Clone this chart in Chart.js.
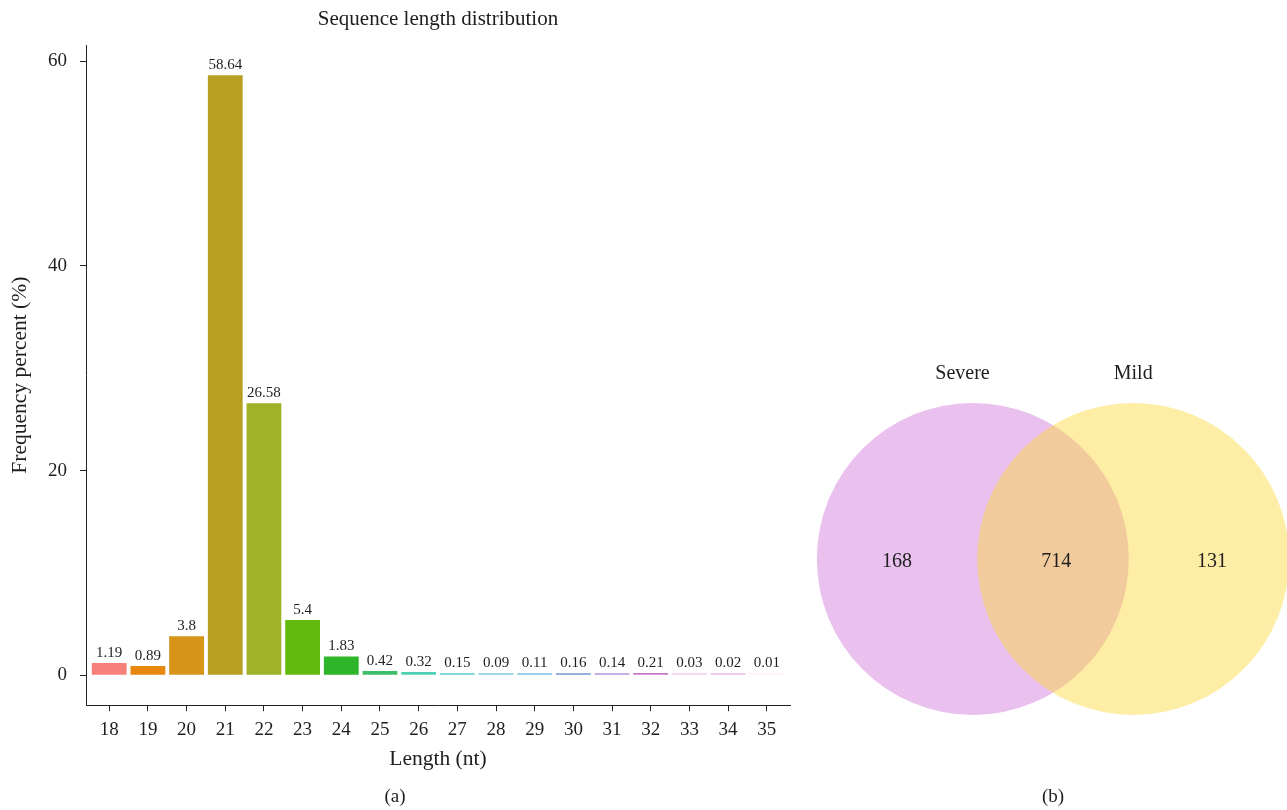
<!DOCTYPE html>
<html>
<head>
<meta charset="utf-8">
<script src="https://cdn.jsdelivr.net/npm/chart.js@4/dist/chart.umd.min.js"></script>
<style>
  html, body { margin: 0; padding: 0; background: #ffffff; }
  #wrap { position: relative; width: 1287px; height: 810px; overflow: hidden; }
  #bars { position: absolute; left: 0; top: 0; }
  #venn { position: absolute; left: 800px; top: 0; }
</style>
</head>
<body>
<div id="wrap">
  <canvas id="bars" width="800" height="810"></canvas>
  <canvas id="venn" width="487" height="810"></canvas>
</div>
<script>
// ---- data: read length distribution (%) ----
const lengths = [18, 19, 20, 21, 22, 23, 24, 25, 26, 27, 28, 29, 30, 31, 32, 33, 34, 35];
const frequency = [1.19, 0.89, 3.8, 58.64, 26.58, 5.4, 1.83, 0.42, 0.32, 0.15, 0.09, 0.11, 0.16, 0.14, 0.21, 0.03, 0.02, 0.01];
const yTicks = [0, 20, 40, 60];

// ---- data: miRNA overlap between groups ----
const setNames = ['Severe', 'Mild'];
const regionCounts = [168, 714, 131]; // Severe only, shared, Mild only

// ---- styles ----
const SERIF = '"Liberation Serif", "DejaVu Serif", serif';
const INK = '#1e1e1e';
const AXIS = '#222222';
const barColors = ['#F8807A', '#E8870E', '#D69418', '#B79F22', '#A0B22A', '#62BA0D',
                   '#2EB52A', '#3DBF69', '#4ED0B5', '#5BCBD0', '#78CCE3', '#72BFDF',
                   '#7295CE', '#B995DD', '#C579C9', '#F2CDEE', '#E9B8E8', '#FBEFFA'];
const vennColors = ['#EAC1EE', 'rgba(253, 215, 55, 0.45)'];

// value labels above each bar
const barValueLabels = {
  id: 'barValueLabels',
  afterDatasetsDraw(chart) {
    const ctx = chart.ctx;
    const meta = chart.getDatasetMeta(0);
    ctx.save();
    ctx.font = '15px ' + SERIF;
    ctx.fillStyle = INK;
    ctx.textAlign = 'center';
    ctx.textBaseline = 'alphabetic';
    meta.data.forEach((bar, i) => {
      ctx.fillText(String(frequency[i]), bar.x, bar.y - 6);
    });
    ctx.restore();
  }
};

const yMax = Math.max(...frequency);

new Chart(document.getElementById('bars'), {
  type: 'bar',
  data: {
    datasets: [{
      data: lengths.map((len, i) => ({ x: len, y: frequency[i] })),
      backgroundColor: barColors,
      borderWidth: 0,
      minBarLength: 2,
      barPercentage: 0.9,
      categoryPercentage: 1
    }]
  },
  options: {
    responsive: false,
    animation: false,
    events: [],
    layout: { padding: { top: 0, right: 10, bottom: 0, left: 0 } },
    plugins: {
      legend: { display: false },
      tooltip: { enabled: false },
      title: {
        display: true,
        text: 'Sequence length distribution',
        fullSize: false,
        color: INK,
        font: { family: SERIF, size: 21, weight: 'normal' },
        padding: { top: 7, bottom: 13 }
      },
      subtitle: {
        display: true,
        position: 'bottom',
        text: '(a)',
        color: INK,
        font: { family: SERIF, size: 19, weight: 'normal' },
        padding: { top: 0, bottom: 2 }
      }
    },
    scales: {
      x: {
        type: 'linear',
        min: lengths[0] - 0.6,
        max: lengths[lengths.length - 1] + 0.6,
        offset: false,
        afterBuildTicks: (s) => { s.ticks = lengths.map(v => ({ value: v })); },
        afterFit: (s) => { s.height = 80; },
        ticks: {
          autoSkip: false, maxRotation: 0, padding: 7, color: INK,
          font: { family: SERIF, size: 19 },
          callback: (v) => String(v)
        },
        grid: { display: true, offset: false, drawOnChartArea: false, drawTicks: true, tickLength: 6, tickColor: AXIS, tickWidth: 1 },
        border: { display: true, color: AXIS, width: 1 },
        title: {
          display: true, text: 'Length (nt)', color: INK,
          font: { family: SERIF, size: 21.5 },
          padding: { top: 0, bottom: 13 }
        }
      },
      y: {
        min: -0.05 * yMax,
        max: yMax * 1.05,
        afterBuildTicks: (s) => { s.ticks = yTicks.map(v => ({ value: v })); },
        afterFit: (s) => { s.width = 86; },
        ticks: { padding: 13, color: INK, font: { family: SERIF, size: 19 } },
        grid: { display: true, drawOnChartArea: false, drawTicks: true, tickLength: 6, tickColor: AXIS, tickWidth: 1 },
        border: { display: true, color: AXIS, width: 1 },
        title: {
          display: true, text: 'Frequency percent (%)', color: INK,
          font: { family: SERIF, size: 21.5 },
          padding: { top: 7, bottom: 0 }
        }
      }
    }
  },
  plugins: [barValueLabels]
});

// ---- two-set Venn diagram, in circle-radius units ----
const CIRCLE_R = 1;          // circle radius
const HALF_GAP = 0.514;      // half the distance between the two centres
const nameX = [-0.58, 0.514];
const nameY = 1.19;
const countX = [-1.0, 0.02, 1.02];

const vennLabels = {
  id: 'vennLabels',
  afterDatasetsDraw(chart) {
    const { ctx, scales: { x, y } } = chart;
    ctx.save();
    ctx.fillStyle = INK;
    ctx.textAlign = 'center';
    ctx.textBaseline = 'middle';
    ctx.font = '20px ' + SERIF;
    setNames.forEach((name, i) => {
      ctx.fillText(name, x.getPixelForValue(nameX[i]), y.getPixelForValue(nameY));
    });
    regionCounts.forEach((n, i) => {
      ctx.fillText(String(n), x.getPixelForValue(countX[i]), y.getPixelForValue(-0.02));
    });
    ctx.font = '19px ' + SERIF;
    ctx.fillText('(b)', x.getPixelForValue(0), chart.height - 13);
    ctx.restore();
  }
};

// circle radius in pixels, taken from the x scale once it is laid out
const radiusPx = (c) => {
  const s = c.chart.scales.x;
  return s.getPixelForValue(CIRCLE_R) - s.getPixelForValue(0);
};

new Chart(document.getElementById('venn'), {
  type: 'scatter',
  data: {
    datasets: [
      { label: setNames[1], order: 0, data: [{ x: HALF_GAP, y: 0 }], backgroundColor: vennColors[1],
        borderWidth: 0, pointBorderWidth: 0, pointRadius: radiusPx, showLine: false, clip: false },
      { label: setNames[0], order: 1, data: [{ x: -HALF_GAP, y: 0 }], backgroundColor: vennColors[0],
        borderWidth: 0, pointBorderWidth: 0, pointRadius: radiusPx, showLine: false, clip: false }
    ]
  },
  options: {
    responsive: false,
    animation: false,
    events: [],
    layout: { padding: 0 },
    plugins: { legend: { display: false }, tooltip: { enabled: false } },
    scales: {
      x: { type: 'linear', display: false, min: -1.622, max: 1.5 },
      y: { type: 'linear', display: false, min: -1.609, max: 3.583 }
    }
  },
  plugins: [vennLabels]
});
</script>
</body>
</html>
